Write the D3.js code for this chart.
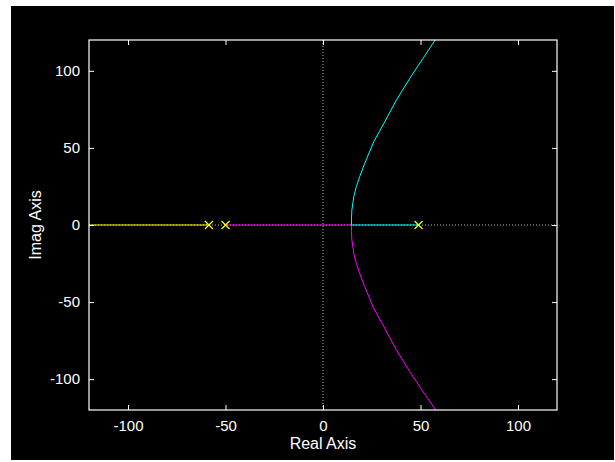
<!DOCTYPE html>
<html>
<head>
<meta charset="utf-8">
<script src="https://cdn.jsdelivr.net/npm/d3@7"></script>
<style>
  html, body { margin: 0; padding: 0; background: #fff; }
  svg { display: block; }
  text { font-family: "Liberation Sans", Arial, sans-serif; fill: #fff; }
</style>
</head>
<body>
<div id="chart"></div>
<script>
// open-loop poles (real axis)
const poles = [-58.5, -50, 49];

// upper branch (cyan): [real, imag]
const cyanBranch = [
  [49, 0], [14.6, 0], [14.6, 4], [14.8, 9.7], [15.8, 18.4], [17.1, 24.9],
  [18.8, 31.3], [21.4, 40], [26, 54], [30.8, 64.9], [37.6, 81],
  [44.5, 95.1], [51.3, 108.1], [57.5, 120]
];
// lower branch (magenta)
const magentaBranch = [
  [-50, 0], [14.6, 0], [14.6, -4], [14.8, -9.7], [15.8, -18.4], [17.1, -24.9],
  [18.8, -31.3], [21.4, -40], [26, -54], [30.8, -64.9], [37.6, -81],
  [44.5, -95.1], [51.3, -108.1], [57.8, -120]
];
// branch going to -infinity (yellow)
const yellowBranch = [[-58.5, 0], [-120, 0]];

const xTicks = [-100, -50, 0, 50, 100];
const yTicks = [-100, -50, 0, 50, 100];

const W = 615, H = 462;
const margin = { top: 40, right: 58, bottom: 52, left: 89 };

const svg = d3.select('#chart').append('svg')
  .attr('width', W)
  .attr('height', H);

svg.append('rect')
  .attr('x', 11).attr('y', 6)
  .attr('width', W - 12).attr('height', H - 8)
  .attr('fill', '#000');

const x = d3.scaleLinear().domain([-120, 120]).range([margin.left, W - margin.right]);
const y = d3.scaleLinear().domain([-120, 120]).range([H - margin.bottom, margin.top]);

// plain hyphen for negatives, like the original
const fmt = d => String(d);

// dotted zero lines
const dot = '1,2';
svg.append('line')
  .attr('x1', x(0)).attr('x2', x(0))
  .attr('y1', y(120)).attr('y2', y(-120))
  .attr('stroke', '#bbb').attr('stroke-dasharray', dot);
svg.append('line')
  .attr('x1', x(-120)).attr('x2', x(120))
  .attr('y1', y(0)).attr('y2', y(0))
  .attr('stroke', '#bbb').attr('stroke-dasharray', dot);

const line = d3.line().x(d => x(d[0])).y(d => y(d[1]));

svg.append('path').datum(yellowBranch)
  .attr('d', line).attr('fill', 'none')
  .attr('stroke', '#ffff00').attr('stroke-width', 1);
svg.append('path').datum(magentaBranch)
  .attr('d', line).attr('fill', 'none')
  .attr('stroke', '#ff00ff').attr('stroke-width', 1);
svg.append('path').datum(cyanBranch)
  .attr('d', line).attr('fill', 'none')
  .attr('stroke', '#00ffff').attr('stroke-width', 1);

// pole markers
const s = 4;
svg.selectAll('path.pole')
  .data(poles)
  .join('path')
  .attr('class', 'pole')
  .attr('d', d => `M${x(d) - s},${y(0) - s}L${x(d) + s},${y(0) + s}M${x(d) - s},${y(0) + s}L${x(d) + s},${y(0) - s}`)
  .attr('stroke', '#ffff00')
  .attr('stroke-width', 1.2)
  .attr('fill', 'none');

// axes box with inward ticks
const styleAxis = g => {
  g.select('.domain').remove();
  g.selectAll('.tick line').attr('stroke', '#fff');
  g.selectAll('.tick text').attr('fill', '#fff').style('font-size', '15px');
};

svg.append('g')
  .attr('transform', `translate(0,${y(-120)})`)
  .call(d3.axisBottom(x).tickValues(xTicks).tickFormat(fmt).tickSize(-5).tickPadding(10))
  .call(styleAxis);
svg.append('g')
  .attr('transform', `translate(0,${y(120)})`)
  .call(d3.axisTop(x).tickValues(xTicks).tickSize(-5).tickFormat(''))
  .call(styleAxis);
svg.append('g')
  .attr('transform', `translate(${x(-120)},0)`)
  .call(d3.axisLeft(y).tickValues(yTicks).tickFormat(fmt).tickSize(-5).tickPadding(9))
  .call(styleAxis);
svg.append('g')
  .attr('transform', `translate(${x(120)},0)`)
  .call(d3.axisRight(y).tickValues(yTicks).tickSize(-5).tickFormat(''))
  .call(styleAxis);

svg.append('rect')
  .attr('x', x(-120)).attr('y', y(120))
  .attr('width', x(120) - x(-120)).attr('height', y(-120) - y(120))
  .attr('fill', 'none').attr('stroke', '#fff').attr('stroke-width', 1.2);

svg.append('text')
  .attr('x', x(0)).attr('y', 449)
  .attr('text-anchor', 'middle')
  .style('font-size', '16px')
  .text('Real Axis');

svg.append('text')
  .attr('transform', `translate(41,${y(0)}) rotate(-90)`)
  .attr('text-anchor', 'middle')
  .style('font-size', '16px')
  .text('Imag Axis');
</script>
</body>
</html>
